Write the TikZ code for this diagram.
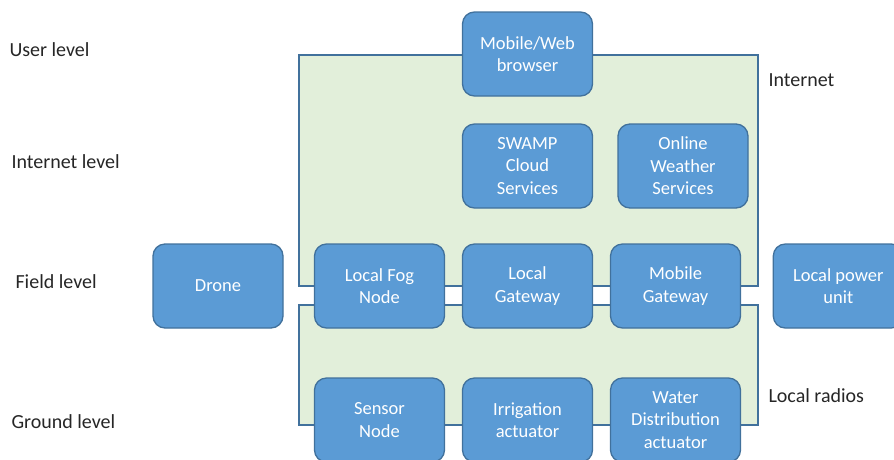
\documentclass[tikz,border=0pt]{standalone}
\usepackage{fontspec}
\setmainfont{Carlito}
\usetikzlibrary{positioning}
\definecolor{SwBlue}{HTML}{5B9BD5}
\definecolor{SwEdge}{HTML}{41719C}
\definecolor{SwGreen}{HTML}{E2EFDA}
\definecolor{SwText}{HTML}{262626}

\begin{document}
\begin{tikzpicture}[
    x=1pt,y=-1pt,
    node distance=16.7pt,
    box/.style={rounded corners=12pt,draw=SwEdge,fill=SwBlue,line width=1.3pt,text=white,
      minimum width=130pt,minimum height=84pt,align=center,inner sep=2pt,
      font=\fontsize{18.5}{22.5}\selectfont},
    zone/.style={draw=SwEdge,fill=SwGreen,line width=1.1pt},
    lvl/.style={anchor=west,text=SwText,font=\fontsize{20}{24}\selectfont}
  ]
    \useasboundingbox (0,0) rectangle (894,459);
    % radio zones behind the boxes
    \draw[zone] (299,55) rectangle (758,286);
    \draw[zone] (299,305) rectangle (758,425);
    % field row
    \node[box] (fog) at (379.5,286) {Local Fog\\Node};
    \node[box,right=of fog] (lgw) {Local\\Gateway};
    \node[box,right=of lgw] (mgw) {Mobile\\Gateway};
    \node[box,left=30.2pt of fog] (drone) {Drone};
    \node[box,right=31.5pt of mgw] (power) {Local power\\unit};
    % internet and user rows
    \node[box,above=34.7pt of lgw] (swamp) {SWAMP\\Cloud\\Services};
    \node[box] (weather) at (683,166) {Online\\Weather\\Services};
    \node[box,above=26.7pt of swamp] (browser) {Mobile/Web\\browser};
    % ground row
    \node[box,below=48.7pt of fog] (sensor) {Sensor\\Node};
    \node[box,right=of sensor] (irr) {Irrigation\\actuator};
    \node[box,right=of irr] (water) {Water\\Distribution\\actuator};
    % levels and zones
    \node[lvl] (user) at (6,50) {User level};
    \node[lvl] (inet) at (8,162) {Internet level};
    \node[lvl] (field) at (12,282) {Field level};
    \node[lvl] (ground) at (8,422) {Ground level};
    \node[lvl] (internet) at (765,80) {Internet};
    \node[lvl] (radios) at (765,396) {Local radios};
  \end{tikzpicture}
\end{document}
